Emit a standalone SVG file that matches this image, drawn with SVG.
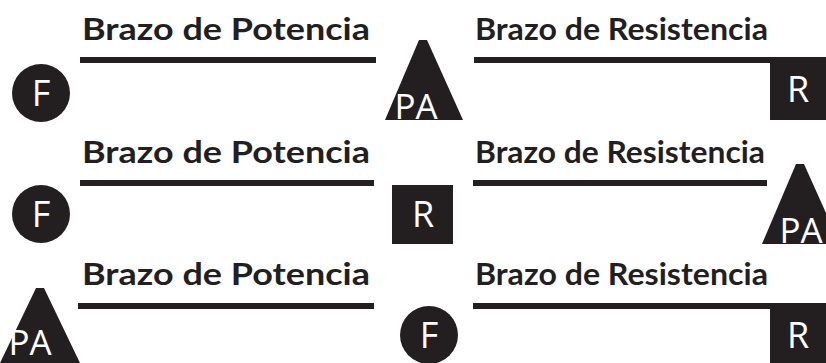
<svg xmlns="http://www.w3.org/2000/svg" width="826" height="363" viewBox="0 0 826 363">
<style>
.t{font-family:Lato,"DejaVu Sans","Liberation Sans",sans-serif;font-weight:bold;font-size:31px;fill:#231f20}
.s{fill:#231f20}
.w{font-family:"Open Sans","Liberation Sans",sans-serif;font-size:36px;fill:#fff;text-anchor:middle}
.w.p{font-size:35px}
</style>
<rect width="826" height="363" fill="#fff"/>
<g id="connectors" class="s">
<rect x="80" y="57" width="296" height="6"/>
<rect x="474" y="57" width="300" height="6"/>
<rect x="80" y="180" width="294" height="6"/>
<rect x="473" y="180" width="294" height="6"/>
<rect x="78" y="303" width="296" height="6"/>
<rect x="473" y="303" width="353" height="6"/>
</g>
<g id="labels">
<text class="t" x="82" y="40" textLength="288" lengthAdjust="spacingAndGlyphs">Brazo de Potencia</text>
<text class="t" x="475" y="40" textLength="293" lengthAdjust="spacingAndGlyphs">Brazo de Resistencia</text>
<text class="t" x="82" y="163" textLength="288" lengthAdjust="spacingAndGlyphs">Brazo de Potencia</text>
<text class="t" x="475" y="163" textLength="290" lengthAdjust="spacingAndGlyphs">Brazo de Resistencia</text>
<text class="t" x="82" y="285" textLength="288" lengthAdjust="spacingAndGlyphs">Brazo de Potencia</text>
<text class="t" x="475" y="285" textLength="293" lengthAdjust="spacingAndGlyphs">Brazo de Resistencia</text>
</g>
<g id="F1"><circle class="s" cx="41" cy="93" r="29"/><text class="w" x="41" y="106">F</text></g>
<g id="PA1"><polygon class="s" points="419,40 427,40 463,120 385,120"/><text class="w p" x="416" y="119">PA</text></g>
<g id="R1"><rect class="s" x="770" y="57" width="56" height="63"/><text class="w" x="798" y="102">R</text></g>
<g id="F2"><circle class="s" cx="41" cy="214" r="29"/><text class="w" x="41" y="227">F</text></g>
<g id="R2"><rect class="s" x="392" y="185" width="61" height="59"/><text class="w" x="423" y="227">R</text></g>
<g id="PA2"><polygon class="s" points="796,164 804,164 840,244 762,244"/><text class="w p" x="801" y="243">PA</text></g>
<g id="PA3"><polygon class="s" points="36,288 44,288 80,363 0,363"/><text class="w p" x="30" y="355">PA</text></g>
<g id="F3"><circle class="s" cx="429" cy="335" r="29"/><text class="w" x="429" y="348">F</text></g>
<g id="R3"><rect class="s" x="770" y="306" width="56" height="57"/><text class="w" x="798" y="348">R</text></g>
</svg>
